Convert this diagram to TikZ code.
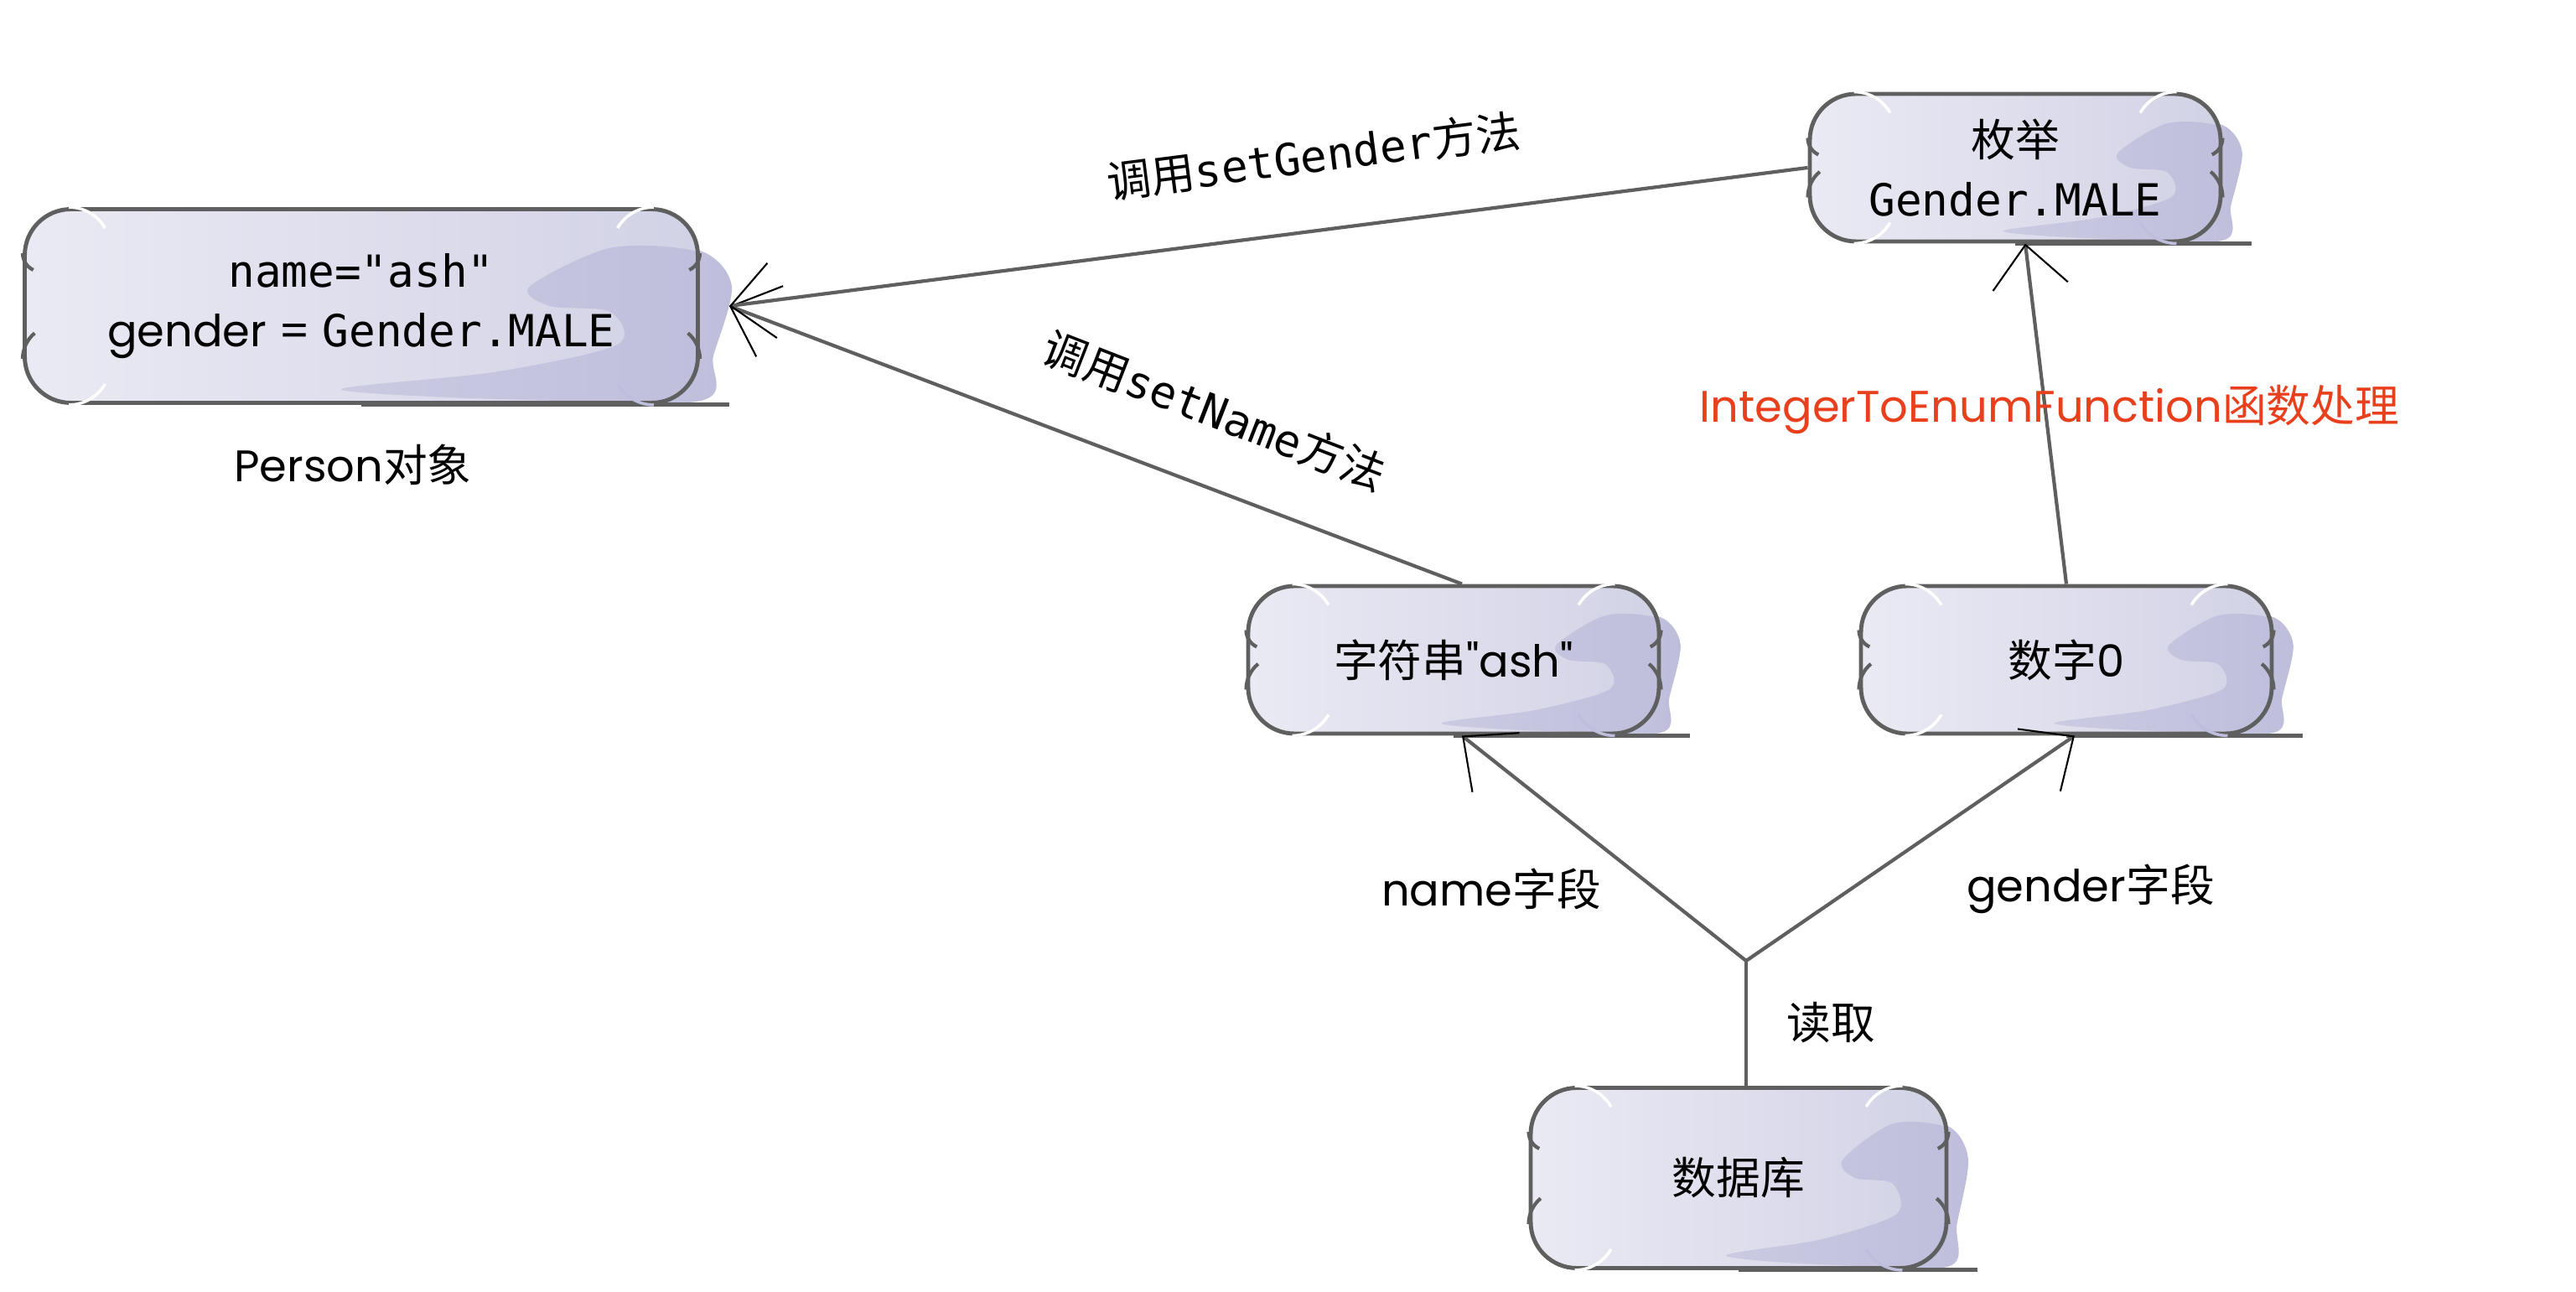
\documentclass[tikz,border=0pt]{standalone}
\usepackage{fontspec}
\setmainfont{Poppins}
\setmonofont{DejaVu Sans Mono}
\newfontfamily\cjk{Noto Sans CJK SC}
\usetikzlibrary{arrows.meta,calc,backgrounds}
\definecolor{boxline}{RGB}{95,95,95}
\definecolor{boxleft}{RGB}{234,234,244}
\definecolor{boxright}{RGB}{210,210,230}
\definecolor{cloudl}{RGB}{212,212,231}
\definecolor{cloudr}{RGB}{190,190,220}
\definecolor{fnred}{RGB}{232,64,28}

% lavender cloud on the right side of a box
\newcommand{\cloud}[1]{%
  \path[sharp corners, left color=cloudl, right color=cloudr]
    let \p1 = ($(#1.north east)-(#1.south west)$) in
    plot[smooth cycle,tension=.5] coordinates {
      ($(#1.south east)+(-0.25*\x1,0.60*\y1)$)
      ($(#1.south east)+(-0.13*\x1,0.80*\y1)$)
      ($(#1.south east)+(0.0*\x1,0.78*\y1)$)
      ($(#1.south east)+(0.047*\x1,0.60*\y1)$)
      ($(#1.south east)+(0.02*\x1,0.25*\y1)$)
      ($(#1.south east)+(0.0*\x1,0.02*\y1)$)
      ($(#1.south east)+(-0.30*\x1,0.02*\y1)$)
      ($(#1.south east)+(-0.53*\x1,0.07*\y1)$)
      ($(#1.south east)+(-0.30*\x1,0.16*\y1)$)
      ($(#1.south east)+(-0.12*\x1,0.30*\y1)$)
      ($(#1.south east)+(-0.13*\x1,0.47*\y1)$)
      ($(#1.south east)+(-0.22*\x1,0.50*\y1)$)};}

% bone-like arcs at the corners of a box
\newcommand{\corners}[1]{%
  \draw[boxline, line width=1.2pt] ([yshift=-0.55cm]#1.north west) arc[start angle=180, end angle=245, radius=0.22cm];
  \draw[boxline, line width=1.2pt] ([yshift=0.55cm]#1.south west) arc[start angle=180, end angle=130, radius=0.4cm];
  \draw[boxline, line width=1.2pt] ([yshift=-0.55cm]#1.north east) arc[start angle=0, end angle=-65, radius=0.22cm];
  \draw[boxline, line width=1.2pt] ([yshift=0.55cm]#1.south east) arc[start angle=0, end angle=50, radius=0.4cm];
  \draw[white, line width=1pt] ([xshift=0.55cm]#1.north west) arc[start angle=90, end angle=30, radius=0.5cm];
  \draw[white, line width=1pt] ([xshift=0.55cm]#1.south west) arc[start angle=270, end angle=330, radius=0.5cm];
  \draw[white, line width=1pt] ([xshift=-0.55cm]#1.north east) arc[start angle=90, end angle=150, radius=0.5cm];
  \draw[cloudr, line width=1pt] ([xshift=-0.55cm]#1.south east) arc[start angle=270, end angle=210, radius=0.5cm];
}

\begin{document}
\begin{tikzpicture}[
    box/.style={draw=boxline, line width=1.4pt, rounded corners=0.55cm,
      left color=boxleft, right color=boxright, align=center,
      font=\fontsize{15}{20}\selectfont,
      path picture={\cloud{path picture bounding box}}},
    lbl/.style={font=\fontsize{15}{20}\selectfont},
    link/.style={draw=boxline, line width=1.2pt},
    arr/.style={link, -{Straight Barb[length=0.5cm,width=0.9cm,color=black,line width=0.6pt]}}]
    \useasboundingbox (0,0) rectangle (30.73,15.41);

    \node[box, minimum width=8.03cm, minimum height=2.31cm] (person) at (4.31,11.76)
      {{\ttfamily name="ash"}\\gender = {\ttfamily Gender.MALE}};
    \node[box, minimum width=4.90cm, minimum height=1.76cm] (enum) at (24.04,13.41)
      {{\cjk 枚举}\\{\ttfamily Gender.MALE}};
    \node[box, minimum width=4.90cm, minimum height=1.76cm] (str) at (17.34,7.54)
      {{\cjk 字符串}\textquotedbl ash\textquotedbl};
    \node[box, minimum width=4.90cm, minimum height=1.76cm] (num) at (24.65,7.54)
      {{\cjk 数字}0};
    \node[box, minimum width=4.96cm, minimum height=2.15cm] (db) at (20.74,1.36)
      {{\cjk 数据库}};
    \begin{scope}[on background layer]
      \foreach \b in {person,enum,str,num,db} {
        \cloud{\b}
        \draw[boxline,line width=1.4pt] (\b.south) -- ([xshift=0.35cm]\b.south east);
      }
    \end{scope}
    \foreach \b in {person,enum,str,num,db} {\corners{\b}}

    \coordinate (tip) at ([xshift=0.35cm]person.east);
    \coordinate (fork) at (20.83,3.95);

    \path[link] (db.north -| fork) -- (fork);
    \path[arr] (fork) -- ([xshift=0.1cm]str.south);
    \path[arr] (fork) -- ([xshift=0.1cm]num.south);
    \path[arr] (num.north) -- ([xshift=0.12cm]enum.south);
    \path[arr] ([xshift=0.1cm]str.north) -- (tip);
    \path[arr] (enum.west) -- (tip);

    \node[lbl, rotate=7.3] (lgender) at (15.67,13.55) {{\cjk 调用}{\ttfamily setGender}{\cjk 方法}};
    \node[lbl, rotate=-21.2] (lname) at (14.49,10.51) {{\cjk 调用}{\ttfamily setName}{\cjk 方法}};
    \node[lbl] (lperson) at (4.21,9.87) {Person{\cjk 对象}};
    \node[lbl, text=fnred] (lfunc) at (24.45,10.53) {IntegerToEnumFunction{\cjk 函数处理}};
    \node[lbl] (lnf) at (17.79,4.81) {name{\cjk 字段}};
    \node[lbl] (lgf) at (24.94,4.81) {gender{\cjk 字段}};
    \node[lbl] (lread) at (21.84,3.21) {{\cjk 读取}};
\end{tikzpicture}
\end{document}
